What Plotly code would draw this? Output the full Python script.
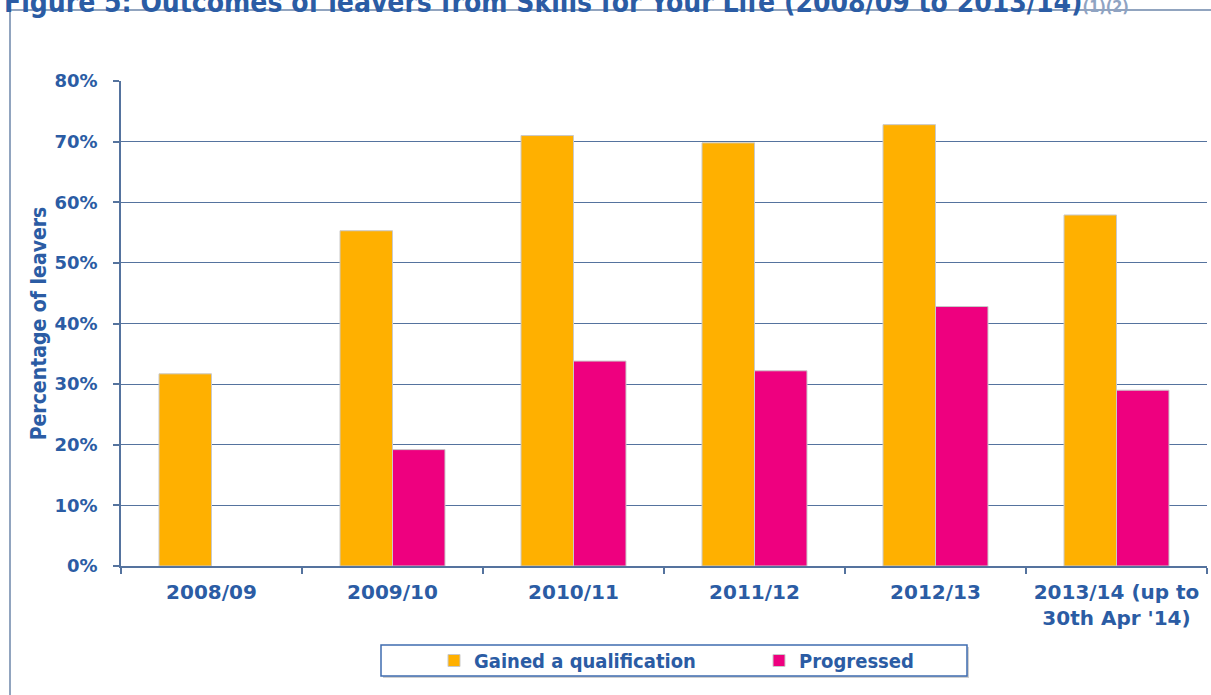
import plotly.graph_objects as go

categories = ["2008/09", "2009/10", "2010/11", "2011/12", "2012/13", "2013/14 (up to<br>30th Apr '14)"]
gained = [31.7, 55.3, 71.0, 69.8, 72.8, 57.9]
progressed = [None, 19.2, 33.8, 32.2, 42.8, 29.0]
y_ticks = [0, 10, 20, 30, 40, 50, 60, 70, 80]
y_tick_text = [f"{v}%" for v in y_ticks]

BLUE = "#2B5CA4"
LINE = "#55739E"
COND = "DejaVu Sans Condensed, Liberation Sans, Arial"

def px_x(p):
    return (p - 121) / 1086

def px_y(p):
    return (566 - p) / 485

fig = go.Figure()
fig.add_trace(go.Bar(x=categories, y=gained, name="Gained a qualification",
                     marker=dict(color="#FFB000", line=dict(color="#C9C9C9", width=1))))
fig.add_trace(go.Bar(x=categories, y=progressed, name="Progressed",
                     marker=dict(color="#EE007F", line=dict(color="#C9C9C9", width=1))))

fig.update_layout(
    width=1211, height=695,
    margin=dict(l=121, r=4, t=81, b=129, autoexpand=False),
    paper_bgcolor="white", plot_bgcolor="white",
    barmode="group", bargap=0.42, bargroupgap=0,
    showlegend=True,
    legend=dict(orientation="h", x=px_x(434), xanchor="left", y=px_y(641), yanchor="top",
                borderwidth=0, bgcolor="rgba(0,0,0,0)",
                font=dict(family=COND, size=20, color=BLUE, weight="bold"),
                itemwidth=30, entrywidth=280, traceorder="normal"),
    annotations=[dict(
        text="Figure 5: Outcomes of leavers from Skills for Your Life (2008/09 to 2013/14)<span style='color:#8FA3C2;font-size:16px'>(1)(2)</span>",
        xref="paper", yref="paper", x=px_x(2), xanchor="left", y=1, yanchor="bottom",
        yshift=60, showarrow=False,
        font=dict(family=COND, size=28, color=BLUE, weight="bold"))],
    shapes=[
        dict(type="rect", xref="paper", yref="paper",
             x0=px_x(10), x1=1.2, y0=-0.5, y1=px_y(10),
             line=dict(color="#6E86AA", width=1.5), fillcolor="rgba(0,0,0,0)", layer="below"),
        dict(type="rect", xref="paper", yref="paper",
             x0=px_x(383), x1=px_x(969), y0=px_y(678), y1=px_y(647),
             line=dict(width=0), fillcolor="#D0D0D0", layer="below"),
        dict(type="rect", xref="paper", yref="paper",
             x0=px_x(381), x1=px_x(967), y0=px_y(676), y1=px_y(645),
             line=dict(color="#3F6CB0", width=1.5), fillcolor="white", layer="below"),
    ],
)

fig.update_yaxes(range=[0, 80], tickvals=y_ticks, ticktext=y_tick_text,
                 showgrid=True, gridcolor=LINE, gridwidth=1.3,
                 showline=True, linecolor=LINE, linewidth=1.5,
                 ticks="outside", ticklen=6, tickcolor=LINE, tickwidth=1.5,
                 ticklabelstandoff=12, automargin=False,
                 tickfont=dict(family="DejaVu Sans", size=18, color=BLUE, weight="bold"),
                 title=dict(text="Percentage of leavers", standoff=2,
                            font=dict(family=COND, size=21, color=BLUE, weight="bold")),
                 zeroline=False)
fig.update_xaxes(showline=True, linecolor=LINE, linewidth=1.5,
                 ticks="outside", ticklen=6, tickcolor=LINE, tickwidth=1.5,
                 tickson="boundaries", showgrid=False, automargin=False,
                 ticklabelstandoff=7,
                 tickfont=dict(family="DejaVu Sans", size=20, color=BLUE, weight="bold"))

fig.write_html("out.html", config={"displayModeBar": False},
               post_script="document.body.style.margin='0';")
